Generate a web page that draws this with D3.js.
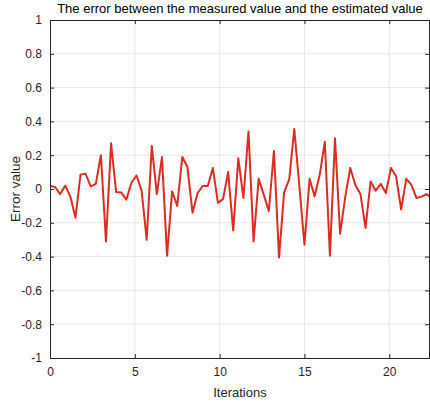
<!DOCTYPE html>
<html>
<head>
<meta charset="utf-8">
<script src="https://cdn.jsdelivr.net/npm/d3@7"></script>
<style>
  body { margin: 0; background: #fff; }
  svg { font-family: "Liberation Sans", Arial, sans-serif; }
</style>
</head>
<body>
<div id="chart"></div>
<script>
// Error samples, one every 0.3 iterations starting at 0
const step = 0.3;
const errorValues = [
  0.018, 0.012, -0.03, 0.02, -0.045, -0.17, 0.085, 0.09, 0.015, 0.03,
  0.2, -0.31, 0.27, -0.018, -0.02, -0.063, 0.037, 0.08, -0.01, -0.30,
  0.255, -0.03, 0.19, -0.395, -0.014, -0.10, 0.19, 0.13, -0.14, -0.024,
  0.018, 0.018, 0.124, -0.082, -0.06, 0.10, -0.245, 0.182, -0.053, 0.34,
  -0.31, 0.06, -0.033, -0.13, 0.225, -0.405, -0.02, 0.055, 0.355, 0.016,
  -0.33, 0.06, -0.043, 0.084, 0.28, -0.395, 0.30, -0.265, -0.05, 0.124,
  0.024, -0.03, -0.23, 0.045, -0.01, 0.03, -0.024, 0.124, 0.075, -0.12,
  0.06, 0.025, -0.053, -0.045, -0.03, -0.058
];
const xTicks = [0, 5, 10, 15, 20];
const yTicks = [-1, -0.8, -0.6, -0.4, -0.2, 0, 0.2, 0.4, 0.6, 0.8, 1];

const margin = { top: 20, right: 0, bottom: 44, left: 50 },
    width = 430 - margin.left - margin.right,
    height = 402 - margin.top - margin.bottom;

const data = errorValues.map((v, i) => ({ x: i * step, y: v }));

const svg = d3.select("#chart").append("svg")
    .attr("width", width + margin.left + margin.right)
    .attr("height", height + margin.top + margin.bottom)
  .append("g")
    .attr("transform", `translate(${margin.left},${margin.top})`);

const x = d3.scaleLinear().domain([0, 22.4]).range([0, width]);
const y = d3.scaleLinear().domain([-1, 1]).range([height, 0]);

// grid
svg.append("g").selectAll("line.gx")
    .data(xTicks.filter(d => d > 0))
    .join("line")
    .attr("x1", d => x(d)).attr("x2", d => x(d))
    .attr("y1", 0).attr("y2", height)
    .attr("stroke", "#e6e6e6");
svg.append("g").selectAll("line.gy")
    .data(yTicks.filter(d => d > -1 && d < 1))
    .join("line")
    .attr("x1", 0).attr("x2", width)
    .attr("y1", d => y(d)).attr("y2", d => y(d))
    .attr("stroke", "#e6e6e6");

// data line
svg.append("clipPath").attr("id", "clip")
  .append("rect").attr("width", width).attr("height", height);

svg.append("path")
    .datum(data)
    .attr("clip-path", "url(#clip)")
    .attr("fill", "none")
    .attr("stroke", "#dd2c22")
    .attr("stroke-width", 2)
    .attr("stroke-linejoin", "round")
    .attr("d", d3.line().x(d => x(d.x)).y(d => y(d.y)));

// axes (ticks inward, box style)
const axisColor = "#262626";
function styleAxis(g) {
  g.select(".domain").attr("stroke", axisColor);
  g.selectAll(".tick line").attr("stroke", axisColor);
  g.selectAll(".tick text").attr("fill", "#262626").attr("font-size", "12px");
}

svg.append("g")
    .attr("transform", `translate(0,${height})`)
    .call(d3.axisBottom(x).tickValues(xTicks).tickSize(-4).tickSizeOuter(0).tickPadding(9))
    .call(g => g.selectAll(".tick text").attr("font-family", "Liberation Sans, Arial, sans-serif"))
    .call(styleAxis);

svg.append("g")
    .call(d3.axisTop(x).tickValues(xTicks).tickSize(-4).tickSizeOuter(0).tickFormat(""))
    .call(styleAxis);

svg.append("g")
    .call(d3.axisLeft(y).tickValues(yTicks).tickSize(-4).tickSizeOuter(0).tickPadding(8)
      .tickFormat(d => d3.format("")(+d.toFixed(1)).replace("−", "-")))
    .call(g => g.selectAll(".tick text").attr("font-family", "Liberation Sans, Arial, sans-serif"))
    .call(styleAxis);

svg.append("g")
    .attr("transform", `translate(${width - 1},0)`)
    .call(d3.axisRight(y).tickValues(yTicks).tickSize(-4).tickSizeOuter(0).tickFormat(""))
    .call(styleAxis);

// title and axis labels
svg.append("text")
    .attr("x", width / 2)
    .attr("y", -7)
    .attr("text-anchor", "middle")
    .attr("fill", "#000")
    .style("font-size", "13px")
    .text("The error between the measured value and the estimated value");

svg.append("text")
    .attr("x", width / 2)
    .attr("y", height + 39)
    .attr("text-anchor", "middle")
    .attr("fill", "#262626")
    .style("font-size", "13px")
    .text("Iterations");

svg.append("text")
    .attr("transform", `translate(${-30},${height / 2}) rotate(-90)`)
    .attr("text-anchor", "middle")
    .attr("fill", "#262626")
    .style("font-size", "13.5px")
    .text("Error value");
</script>
</body>
</html>
